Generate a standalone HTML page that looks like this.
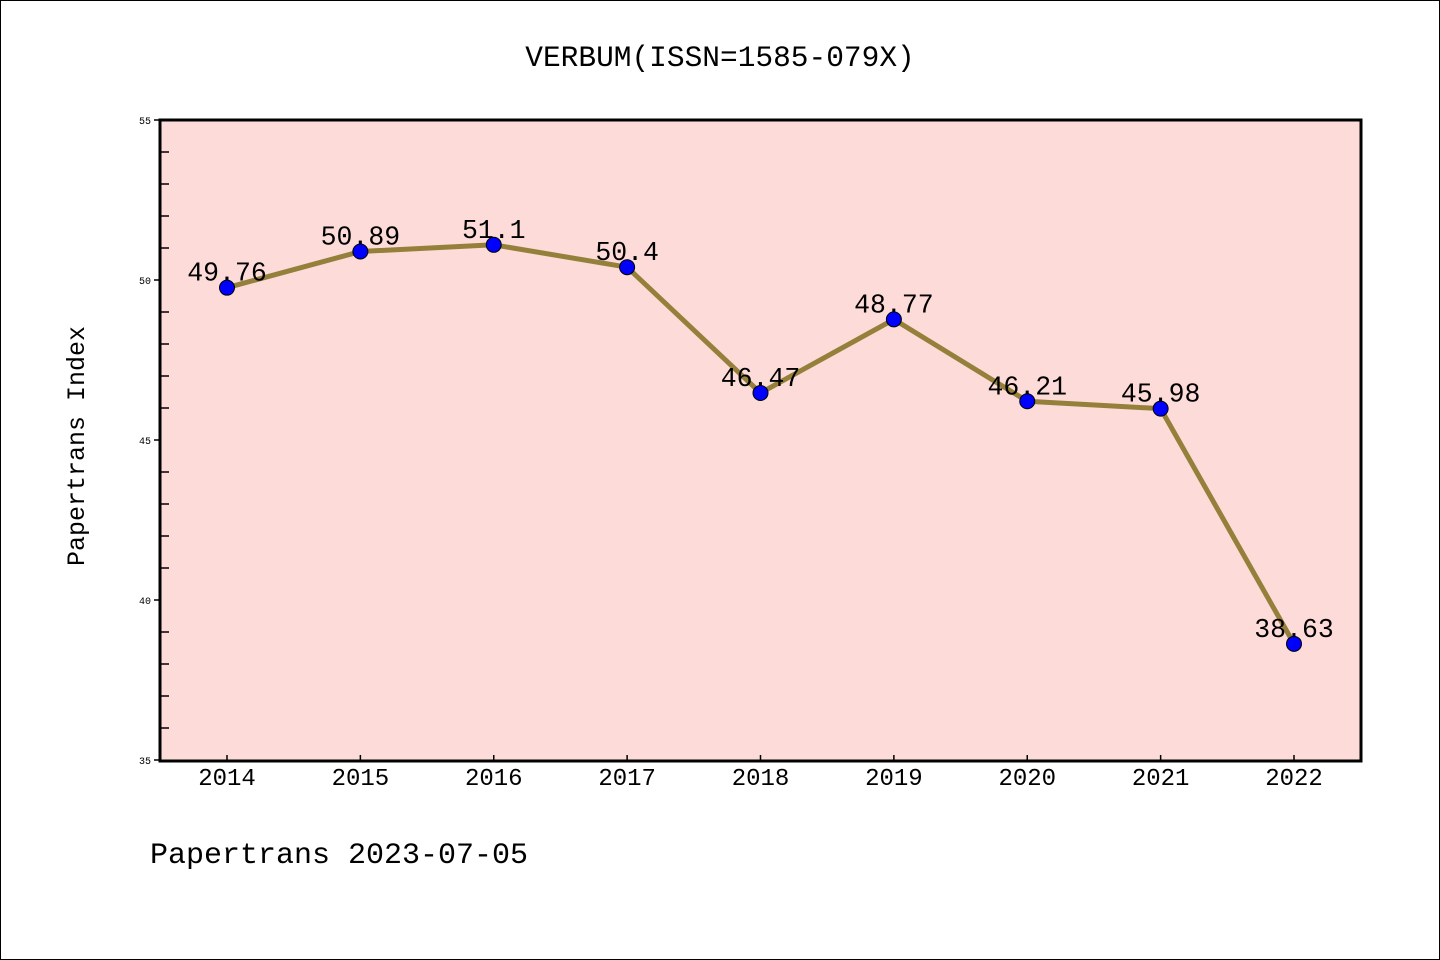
<!DOCTYPE html>
<html><head><meta charset="utf-8"><style>
html,body{margin:0;padding:0;background:#fff;}
svg{display:block;}
text{font-family:"Liberation Mono","WenQuanYi Zen Hei",monospace;}
</style></head><body>
<svg id="chart" width="1440" height="960" xmlns="http://www.w3.org/2000/svg">
<rect x="0.5" y="0.5" width="1439" height="959" fill="#fff" stroke="#000" stroke-width="1"/>
<text x="720" y="66" font-size="29.5" text-anchor="middle">VERBUM(ISSN=1585-079X)</text>
<rect x="160" y="120" width="1201" height="641" fill="#fddbd8"/>
<g id="axes"></g>
<g id="series"></g>
<rect x="160" y="120" width="1201" height="641" fill="none" stroke="#000" stroke-width="3"/>
<text transform="translate(84,446) rotate(-90)" font-size="25" text-anchor="middle">Papertrans Index</text>
<text x="150" y="863" font-size="30">Papertrans 2023-07-05</text>
</svg>
<script>
const years = ["2014","2015","2016","2017","2018","2019","2020","2021","2022"];
const values = [49.76,50.89,51.1,50.4,46.47,48.77,46.21,45.98,38.63];
const valueLabels = ["49.76","50.89","51.1","50.4","46.47","48.77","46.21","45.98","38.63"];
const yTicks = [35,40,45,50,55];
const yMin = 35, yMax = 55;
const NS = "http://www.w3.org/2000/svg";
function xPos(i){ return 227 + i*(1294-227)/(years.length-1); }
function yPos(v){ return 760 - (v - yMin)*(640/(yMax-yMin)); }
function mk(tag, attrs, parent){ const e=document.createElementNS(NS,tag); for(const k in attrs) e.setAttribute(k,attrs[k]); parent.appendChild(e); return e; }
const axes=document.getElementById('axes');
const series=document.getElementById('series');
for(let v=yMin; v<=yMax; v++){
  if(v%5===0){
    const t=mk('line',{x1:154,x2:160,y1:yPos(v),y2:yPos(v),stroke:'#000','stroke-width':1.5},axes);
    
    
  } else {
    const t=mk('line',{x1:160,x2:169,y1:yPos(v),y2:yPos(v),stroke:'#000','stroke-width':1.5},axes);
    
    
  }
}
yTicks.forEach(v=>{
  const t=mk('text',{x:151,y:yPos(v)+4,'font-size':10,'text-anchor':'end'},axes);
  t.textContent=v;
  
  
});
years.forEach((y,i)=>{
  const t=mk('line',{x1:xPos(i),x2:xPos(i),y1:755,y2:761,stroke:'#000','stroke-width':1.5},axes);
  
  
  const l=mk('text',{x:xPos(i),y:785,'font-size':24,'text-anchor':'middle'},axes);
  l.textContent=y;
  
  
});
const pts=values.map((v,i)=>xPos(i)+','+yPos(v)).join(' ');
const line=mk('polyline',{points:pts,fill:'none',stroke:'#94803a','stroke-width':5,'stroke-linejoin':'round'},series);


values.forEach((v,i)=>{
  const c=mk('circle',{cx:xPos(i),cy:yPos(v),r:7.5,fill:'#0000ff',stroke:'#000','stroke-width':1},series);
  
  
});
values.forEach((v,i)=>{
  const t=mk('text',{x:xPos(i),y:yPos(v)-7,'font-size':26.5,'text-anchor':'middle'},series);
  t.textContent=valueLabels[i];
  
  
});
</script>
</body></html>
